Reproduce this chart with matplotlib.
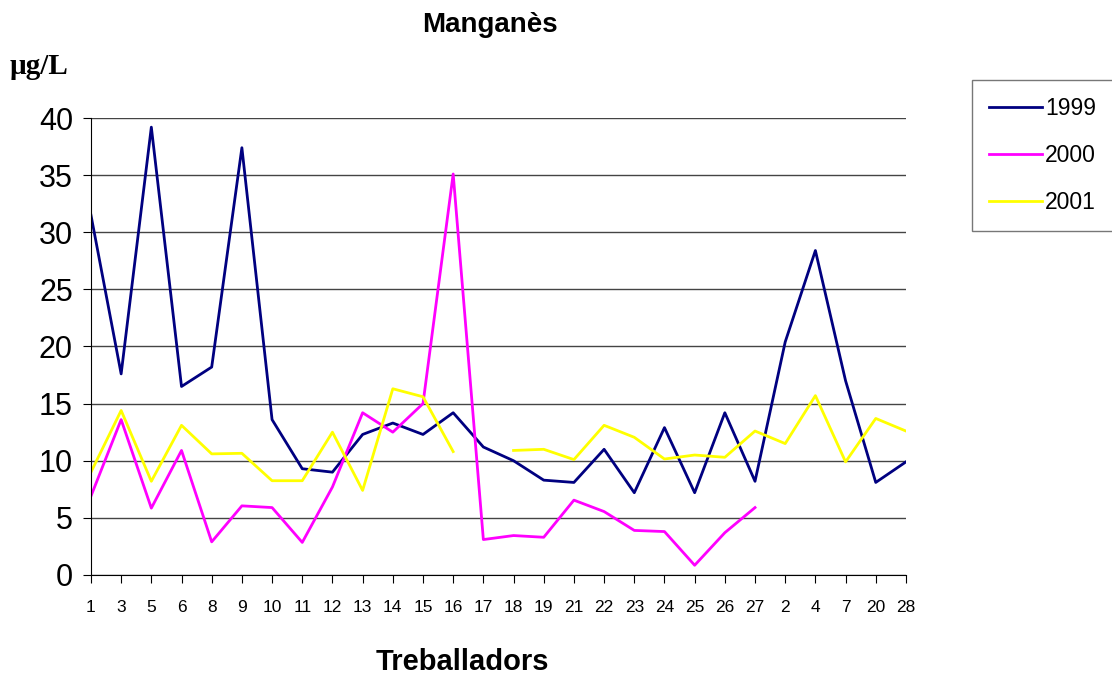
import numpy as np
import matplotlib
matplotlib.use('Agg')
import matplotlib.pyplot as plt

# Data
workers = ['1', '3', '5', '6', '8', '9', '10', '11', '12', '13', '14', '15', '16', '17',
           '18', '19', '21', '22', '23', '24', '25', '26', '27', '2', '4', '7', '20', '28']
nan = np.nan
mn_1999 = [31.5, 17.6, 39.2, 16.5, 18.2, 37.4, 13.6, 9.3, 9.0, 12.3, 13.3, 12.3, 14.2, 11.2,
           10.0, 8.3, 8.1, 11.0, 7.2, 12.9, 7.2, 14.2, 8.2, 20.4, 28.4, 17.0, 8.1, 9.9]
mn_2000 = [6.9, 13.6, 5.85, 10.9, 2.9, 6.05, 5.9, 2.85, 7.7, 14.2, 12.5, 15.0, 35.1, 3.1,
           3.45, 3.3, 6.55, 5.55, 3.9, 3.8, 0.85, 3.7, 5.9, nan, nan, nan, nan, nan]
mn_2001 = [9.0, 14.4, 8.2, 13.1, 10.6, 10.65, 8.25, 8.25, 12.5, 7.4, 16.3, 15.6, 10.8, nan,
           10.9, 11.0, 10.1, 13.1, 12.05, 10.15, 10.5, 10.3, 12.6, 11.5, 15.7, 9.9, 13.7, 12.6]

plt.rcParams['font.family'] = ['Liberation Sans', 'DejaVu Sans']

fig = plt.figure(figsize=(11.12, 6.81), dpi=100)
ax = fig.add_axes([0.0818, 0.1557, 0.7329, 0.671])

x = np.arange(len(workers))
ax.plot(x, mn_1999, color='#000080', lw=2, label='1999')
ax.plot(x, mn_2000, color='#FF00FF', lw=2, label='2000')
ax.plot(x, mn_2001, color='#FFFF00', lw=2, label='2001')

ax.set_xlim(0, len(workers) - 1)
ax.set_ylim(0, 40)
ax.set_xticks(x)
ax.set_xticklabels(workers, fontsize=12.5)
ax.set_yticks(range(0, 41, 5))
ax.tick_params(axis='y', labelsize=22, length=6, direction='out', pad=7)
ax.tick_params(axis='x', length=6, direction='out', pad=12)
ax.grid(axis='y', color='#444444', lw=1)
ax.set_axisbelow(True)
for s in ['top', 'right']:
    ax.spines[s].set_visible(False)

fig.text(0.441, 0.963, 'Manganès', ha='center', va='center', fontsize=20, fontweight='bold')
fig.text(0.009, 0.903, 'µg/L', ha='left', va='center', fontsize=21, fontweight='bold',
         family='Liberation Serif')
fig.text(0.416, 0.028, 'Treballadors', ha='center', va='center', fontsize=21, fontweight='bold')

leg = fig.legend(loc='upper left', bbox_to_anchor=(0.874, 0.883), fontsize=16.5,
                 frameon=True, fancybox=False, borderpad=0.75, labelspacing=1.05,
                 handlelength=2.3, handletextpad=0.15, borderaxespad=0)
leg.get_frame().set_edgecolor('#555555')
leg.get_frame().set_linewidth(1)

fig.savefig('out.png', dpi=100)
